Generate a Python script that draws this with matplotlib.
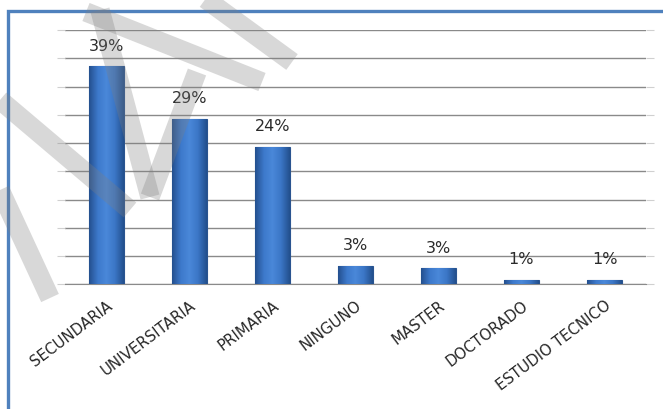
import numpy as np
import matplotlib
matplotlib.use("Agg")
import matplotlib.pyplot as plt
from matplotlib.colors import LinearSegmentedColormap
from matplotlib.lines import Line2D
from matplotlib.patches import Rectangle

# data (percent of respondents by education level)
categories = ["SECUNDARIA", "UNIVERSITARIA", "PRIMARIA", "NINGUNO",
              "MASTER", "DOCTORADO", "ESTUDIO TECNICO"]
values = [38.6, 29.3, 24.3, 3.3, 2.8, 0.8, 0.8]
labels = ["39%", "29%", "24%", "3%", "3%", "1%", "1%"]
grid_ticks = [0, 5, 10, 15, 20, 25, 30, 35, 40, 45]

# faint grey watermark strokes across the page (pixel coords, top-left origin)
watermark = [
    ((0, 100), (130, 210)),
    ((0, 190), (50, 298)),
    ((100, 10), (150, 197)),
    ((150, 197), (197, 72)),
    ((86, 12), (262, 82)),
    ((200, -5), (292, 62)),
]

W, H = 663, 409
fig = plt.figure(figsize=(W / 100, H / 100), dpi=100)
fig.patch.set_facecolor("white")
ax = fig.add_axes([65 / W, 1 - 284.3 / H, 581 / W, 254.3 / H])

x = np.arange(len(categories))
width = 0.41
bars = ax.bar(x, values, width=width, color="#3a72c2",
              edgecolor="#2a5490", linewidth=0.8, zorder=3)

# horizontal shading inside each bar
shade = LinearSegmentedColormap.from_list(
    "shade", ["#24508f", "#3d79cb", "#4a88d9", "#3b76c6", "#23508e"])
grad = np.linspace(0, 1, 64).reshape(1, -1)
for b in bars:
    x0 = b.get_x()
    im = ax.imshow(grad, cmap=shade, aspect="auto", zorder=3.5,
                   extent=[x0, x0 + b.get_width(), 0, b.get_height()])
    im.set_clip_path(b)

for xi, v, lab in zip(x, values, labels):
    ax.annotate(lab, (xi, v), xytext=(0, 9), textcoords="offset points",
                ha="center", va="bottom", fontsize=11.5, color="#2b2b2b")

ax.set_xlim(-0.5, len(categories) - 0.5)
ax.set_ylim(0, 45)
ax.set_yticks(grid_ticks)
ax.yaxis.grid(True, color="#8a8a8a", linewidth=1.0, zorder=0)
ax.set_axisbelow(True)
ax.tick_params(axis="y", labelleft=False, length=6, color="#d0d0d0",
               right=True)
for s in ["left", "right", "top"]:
    ax.spines[s].set_visible(False)
ax.spines["bottom"].set_color("#8a8a8a")

ax.set_xticks(x)
ax.set_xticklabels(categories, rotation=37, ha="right",
                   rotation_mode="anchor", fontsize=10.8, color="#262626")
ax.tick_params(axis="x", length=0, pad=10)

# page frame
fig.add_artist(Rectangle((7.5 / W, -0.1), 1.2, 1.1 - 11 / H,
                         transform=fig.transFigure, fill=False,
                         edgecolor="#4f81bd", linewidth=2.4))

for (xa, ya), (xb, yb) in watermark:
    fig.add_artist(Line2D([xa / W, xb / W], [1 - ya / H, 1 - yb / H],
                          transform=fig.transFigure, color="#7f7f7f",
                          alpha=0.3, linewidth=14, solid_capstyle="butt",
                          zorder=10))

fig.savefig("out.png", dpi=100)
